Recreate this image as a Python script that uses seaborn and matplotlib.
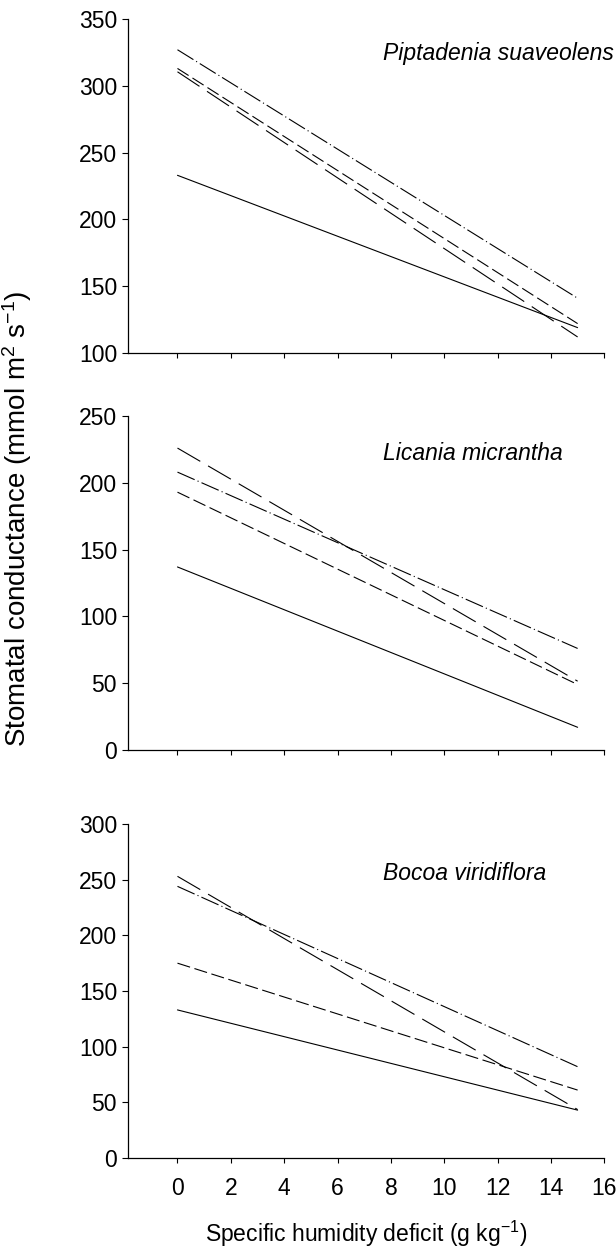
import matplotlib
matplotlib.use("Agg")
import matplotlib.pyplot as plt
import seaborn as sns
import pandas as pd

# ---- data (regression lines, start and end values) ----
x_vals = [0, 15]
series = ["solid", "long dash", "short dash", "dash-dot"]

piptadenia = {"solid": [233, 119], "long dash": [310.5, 112],
              "short dash": [313, 122], "dash-dot": [327, 141]}
licania = {"solid": [137, 17], "long dash": [226, 51.5],
           "short dash": [193, 49], "dash-dot": [208, 76]}
bocoa = {"solid": [133, 43], "long dash": [253, 43.5],
         "short dash": [175, 61], "dash-dot": [244, 82]}

species = ["Piptadenia suaveolens", "Licania micrantha", "Bocoa viridiflora"]
panels = [piptadenia, licania, bocoa]
ylims = [(100, 350), (0, 250), (0, 300)]
x_ticks = [0, 2, 4, 6, 8, 10, 12, 14, 16]

sns.set_theme(style="white")
plt.rcParams["font.family"] = ["Liberation Sans", "DejaVu Sans"]
plt.rcParams["mathtext.fontset"] = "custom"
plt.rcParams["mathtext.rm"] = "Liberation Sans"
plt.rcParams["mathtext.it"] = "Liberation Sans:italic"
plt.rcParams["lines.scale_dashes"] = False
plt.rcParams["text.color"] = "black"
plt.rcParams["axes.labelcolor"] = "black"
plt.rcParams["xtick.color"] = "black"
plt.rcParams["ytick.color"] = "black"

dash_map = {"solid": "", "long dash": (19, 6.5), "short dash": (9.5, 3.3),
            "dash-dot": (13.5, 2.3, 0.8, 2.3)}

fig = plt.figure(figsize=(6.16, 12.5), dpi=100)
rects = [(0.208, 0.7176, 0.773, 0.2672),
         (0.208, 0.4000, 0.773, 0.2672),
         (0.208, 0.0736, 0.773, 0.2672)]
label_y = [0.898, 0.889, 0.853]
FS = 16.5

for i, (data, name, ylim, rect) in enumerate(zip(panels, species, ylims, rects)):
    ax = fig.add_axes(rect)
    rows = []
    for s in series:
        for xv, yv in zip(x_vals, data[s]):
            rows.append({"x": xv, "y": yv, "series": s})
    df = pd.DataFrame(rows)
    sns.lineplot(data=df, x="x", y="y", style="series", dashes=dash_map,
                 color="black", linewidth=0.8, legend=False, ax=ax)
    ax.set_xlim(-1.85, 16)
    ax.set_ylim(*ylim)
    ax.set_yticks(range(ylim[0], ylim[1] + 1, 50))
    ax.set_xticks(x_ticks)
    ax.set_xlabel("")
    ax.set_ylabel("")
    for sp in ["top", "right"]:
        ax.spines[sp].set_visible(False)
    for sp in ["left", "bottom"]:
        ax.spines[sp].set_color("black")
        ax.spines[sp].set_linewidth(0.9)
    ax.tick_params(axis="y", direction="out", length=4, width=0.8,
                   pad=4, labelsize=FS, color="black", labelcolor="black",
                   left=True)
    ax.tick_params(axis="x", direction="out", length=3.5, width=0.8,
                   pad=10, labelsize=FS, color="black", labelcolor="black",
                   bottom=True)
    if i < 2:
        ax.tick_params(axis="x", labelbottom=False)
    ax.text(0.536, label_y[i], name, transform=ax.transAxes, fontsize=FS,
            style="italic", ha="left", va="center", color="black")
    if i == 2:
        ax.set_xlabel("Specific humidity deficit (g kg$^{-1}$)", fontsize=FS,
                      labelpad=14, color="black")

fig.text(0.028, 0.585, "Stomatal conductance (mmol m$^{2}$ s$^{-1}$)",
         rotation=90, ha="center", va="center", fontsize=20, color="black")

fig.savefig("out.png", dpi=100)
